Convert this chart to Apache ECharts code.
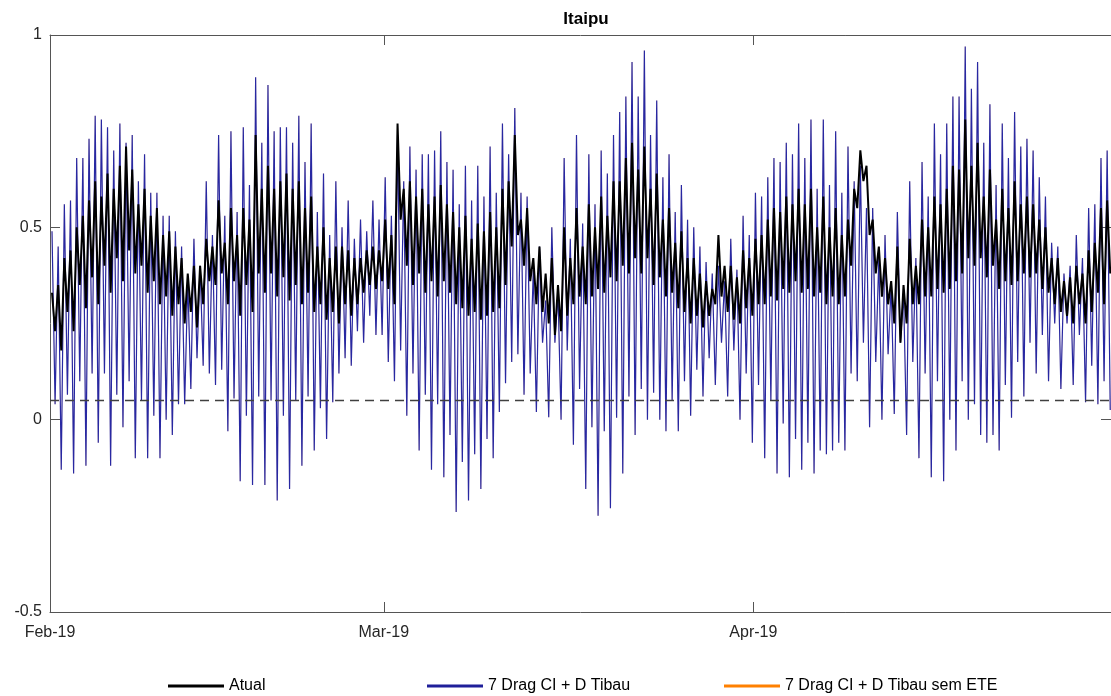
<!DOCTYPE html>
<html>
<head>
    <meta charset="utf-8">
    <style>
        html, body {
            height: 100%;
        }

        * {
            margin: 0;
            padding: 0;
        }

        #container {
            width: 1111px;
            height: 696px;
            background: #fff;
        }
    </style>
</head>
<body>
<div id="container"></div>
<script type="text/javascript" src="https://cdn.jsdelivr.net/npm/echarts@6/dist/echarts.min.js"></script>
<script type="text/javascript">
    // x in days since 1 Feb 2019, one high and one low per tidal cycle (~12.4 h)
    const firstPeakDay = 0.168;
    const cycleDays = 0.5176;

    const monthDays = [0, 28, 59];
    const monthLabels = ['Feb-19', 'Mar-19', 'Apr-19'];
    const limiar = 0.05;

    // 7 Drag CI + D Tibau - highs
    const bluePeaks = [
        0.49, 0.45, 0.56, 0.57, 0.68, 0.68, 0.73, 0.79, 0.78, 0.76,
        0.70, 0.77, 0.72, 0.74, 0.62, 0.69, 0.59, 0.59, 0.53, 0.53,
        0.49, 0.45, 0.36, 0.47, 0.40, 0.62, 0.48, 0.74, 0.53, 0.75,
        0.54, 0.76, 0.61, 0.89, 0.72, 0.87, 0.75, 0.76, 0.76, 0.72,
        0.79, 0.67, 0.77, 0.54, 0.64, 0.48, 0.62, 0.50, 0.57, 0.47,
        0.52, 0.49, 0.57, 0.52, 0.63, 0.53, 0.74, 0.62, 0.71, 0.65,
        0.69, 0.69, 0.70, 0.75, 0.67, 0.65, 0.56, 0.66, 0.57, 0.66,
        0.58, 0.71, 0.59, 0.77, 0.69, 0.81, 0.59, 0.58, 0.39, 0.45,
        0.31, 0.50, 0.33, 0.68, 0.47, 0.74, 0.51, 0.69, 0.56, 0.70,
        0.64, 0.74, 0.80, 0.84, 0.93, 0.84, 0.96, 0.74, 0.83, 0.63,
        0.69, 0.54, 0.61, 0.52, 0.50, 0.45, 0.41, 0.38, 0.40, 0.36,
        0.47, 0.39, 0.53, 0.48, 0.59, 0.58, 0.63, 0.68, 0.67, 0.72,
        0.69, 0.77, 0.68, 0.78, 0.60, 0.78, 0.61, 0.75, 0.59, 0.71,
        0.62, 0.66, 0.55, 0.55, 0.42, 0.48, 0.35, 0.54, 0.33, 0.62,
        0.42, 0.67, 0.58, 0.77, 0.69, 0.77, 0.84, 0.84, 0.97, 0.86,
        0.93, 0.72, 0.82, 0.61, 0.77, 0.68, 0.80, 0.71, 0.73, 0.70,
        0.63, 0.58, 0.46, 0.45, 0.38, 0.40, 0.48, 0.42, 0.55, 0.56,
        0.68, 0.70
    ];
    // 7 Drag CI + D Tibau - lows
    const blueTroughs = [
        0.04, -0.13, 0.065, -0.14, 0.10, -0.12, 0.12, -0.06, 0.12, -0.12,
        0.065, -0.02, 0.10, -0.10, 0.05, -0.10, 0.01, -0.10, 0.0, -0.04,
        0.04, 0.04, 0.08, 0.16, 0.14, 0.12, 0.09, 0.13, -0.03, 0.055,
        -0.16, 0.01, -0.17, 0.06, -0.17, 0.05, -0.21, 0.01, -0.18, 0.05,
        -0.12, 0.06, -0.08, 0.03, -0.05, 0.045, 0.12, 0.16, 0.14, 0.23,
        0.20, 0.27, 0.22, 0.22, 0.15, 0.10, 0.18, 0.01, 0.12, -0.08,
        0.065, -0.13, 0.04, -0.15, -0.04, -0.24, -0.11, -0.21, -0.09, -0.18,
        -0.05, -0.10, 0.02, 0.095, 0.15, 0.17, 0.065, 0.12, 0.02, 0.20,
        0.006, 0.20, 0.0, 0.18, -0.065, 0.08, -0.18, -0.02, -0.25, -0.03,
        -0.23, 0.005, -0.14, 0.06, -0.04, 0.08, 0.0, 0.07, 0.0, -0.03,
        0.05, -0.03, 0.10, 0.01, 0.13, 0.06, 0.16, 0.09, 0.20, 0.06,
        0.18, 0.0, 0.12, -0.06, 0.09, -0.10, 0.05, -0.14, -0.01, -0.15,
        -0.05, -0.13, -0.06, -0.14, -0.08, -0.09, -0.08, -0.06, -0.08, 0.12,
        0.10, 0.20, -0.02, 0.15, 0.0, 0.17, 0.015, 0.20, -0.04, 0.15,
        -0.10, 0.12, -0.15, 0.10, -0.16, 0.0, -0.08, 0.10, 0.0, 0.04,
        -0.04, -0.06, -0.04, -0.08, 0.09, 0.005, 0.15, 0.06, 0.20, 0.12,
        0.22, 0.10, 0.25, 0.08, 0.25, 0.09, 0.22, 0.045, 0.14, 0.04,
        0.10, 0.025
    ];
    // Atual - highs
    const blackPeaks = [
        0.33, 0.35, 0.42, 0.44, 0.50, 0.53, 0.57, 0.62, 0.58, 0.64,
        0.60, 0.66, 0.71, 0.65, 0.56, 0.60, 0.53, 0.55, 0.48, 0.49,
        0.45, 0.42, 0.38, 0.40, 0.40, 0.47, 0.45, 0.57, 0.46, 0.55,
        0.48, 0.55, 0.52, 0.74, 0.60, 0.66, 0.60, 0.62, 0.64, 0.60,
        0.62, 0.55, 0.58, 0.45, 0.50, 0.42, 0.45, 0.45, 0.44, 0.42,
        0.42, 0.44, 0.45, 0.44, 0.52, 0.48, 0.77, 0.60, 0.62, 0.58,
        0.60, 0.56, 0.58, 0.61, 0.56, 0.54, 0.50, 0.53, 0.47, 0.51,
        0.49, 0.54, 0.50, 0.60, 0.62, 0.74, 0.52, 0.55, 0.42, 0.45,
        0.38, 0.42, 0.35, 0.50, 0.42, 0.55, 0.45, 0.56, 0.50, 0.58,
        0.53, 0.62, 0.62, 0.68, 0.72, 0.65, 0.71, 0.60, 0.64, 0.52,
        0.55, 0.46, 0.49, 0.42, 0.42, 0.38, 0.36, 0.34, 0.48, 0.40,
        0.40, 0.37, 0.44, 0.42, 0.47, 0.48, 0.52, 0.55, 0.54, 0.58,
        0.56, 0.60, 0.56, 0.60, 0.50, 0.58, 0.50, 0.55, 0.48, 0.52,
        0.60, 0.70, 0.66, 0.52, 0.45, 0.42, 0.36, 0.45, 0.35, 0.47,
        0.40, 0.52, 0.50, 0.58, 0.56, 0.60, 0.66, 0.65, 0.78, 0.66,
        0.72, 0.58, 0.65, 0.52, 0.60, 0.55, 0.62, 0.56, 0.58, 0.56,
        0.52, 0.50, 0.42, 0.42, 0.36, 0.37, 0.40, 0.38, 0.44, 0.46,
        0.55, 0.57
    ];
    // Atual - lows
    const blackTroughs = [
        0.23, 0.18, 0.28, 0.23, 0.35, 0.29, 0.37, 0.30, 0.40, 0.33,
        0.42, 0.36, 0.44, 0.38, 0.40, 0.33, 0.36, 0.30, 0.32, 0.27,
        0.30, 0.25, 0.28, 0.24, 0.30, 0.36, 0.35, 0.38, 0.30, 0.36,
        0.27, 0.35, 0.28, 0.38, 0.33, 0.38, 0.32, 0.37, 0.31, 0.35,
        0.30, 0.33, 0.28, 0.30, 0.26, 0.28, 0.25, 0.30, 0.27, 0.30,
        0.33, 0.35, 0.34, 0.36, 0.34, 0.30, 0.52, 0.40, 0.35, 0.38,
        0.33, 0.36, 0.32, 0.36, 0.33, 0.30, 0.29, 0.27, 0.28, 0.26,
        0.27, 0.28, 0.29, 0.35, 0.45, 0.48, 0.40, 0.36, 0.30, 0.28,
        0.25, 0.22, 0.23, 0.27, 0.30, 0.32, 0.30, 0.32, 0.34, 0.33,
        0.37, 0.36, 0.40, 0.38, 0.42, 0.38, 0.42, 0.35, 0.37, 0.32,
        0.33, 0.29, 0.28, 0.25, 0.27, 0.24, 0.27, 0.30, 0.32, 0.28,
        0.26, 0.25, 0.29, 0.27, 0.30, 0.30, 0.32, 0.31, 0.34, 0.33,
        0.36, 0.33, 0.34, 0.32, 0.33, 0.30, 0.32, 0.30, 0.32, 0.40,
        0.55, 0.62, 0.48, 0.38, 0.32, 0.30, 0.25, 0.20, 0.25, 0.30,
        0.30, 0.32, 0.32, 0.34, 0.33, 0.34, 0.36, 0.38, 0.42, 0.40,
        0.42, 0.37, 0.40, 0.34, 0.36, 0.35, 0.36, 0.38, 0.37, 0.38,
        0.34, 0.33, 0.30, 0.28, 0.27, 0.25, 0.30, 0.25, 0.28, 0.33,
        0.30, 0.38
    ];

    function zigzag(peaks, troughs) {
        let out = [];
        for (let i = 0; i < peaks.length; i++) {
            let t = firstPeakDay + i * cycleDays;
            out.push([t, peaks[i]]);
            out.push([t + cycleDays / 2, troughs[i]]);
        }
        return out;
    }

    let blueData = zigzag(bluePeaks, blueTroughs);
    let blackData = zigzag(blackPeaks, blackTroughs);

    let dom = document.getElementById("container");
    let myChart = echarts.init(dom, null, {renderer: 'canvas'});
    let axisColor = '#555';
    let font = 'Liberation Sans';

    // MATLAB style box: ticks inside, axes on the frame, not on zero
    function frameX(pos, labels) {
        return {
            type: 'value',
            min: 0,
            max: 89,
            position: pos,
            splitLine: {show: false},
            axisLine: {onZero: false, lineStyle: {color: axisColor}},
            axisTick: {inside: true, length: 10, customValues: monthDays, lineStyle: {color: axisColor}},
            axisLabel: labels ? {
                customValues: monthDays,
                margin: 13,
                fontFamily: font,
                fontSize: 16,
                color: '#262626',
                formatter: function (v) {
                    let k = monthDays.indexOf(Math.round(v));
                    return k >= 0 ? monthLabels[k] : '';
                }
            } : {show: false}
        };
    }

    function frameY(pos, labels) {
        return {
            type: 'value',
            min: -0.5,
            max: 1,
            interval: 0.5,
            position: pos,
            splitLine: {show: false},
            axisLine: {show: true, onZero: false, lineStyle: {color: axisColor}},
            axisTick: {show: true, inside: true, length: 10, lineStyle: {color: axisColor}},
            axisLabel: labels ? {margin: 8, fontFamily: font, fontSize: 16, color: '#262626'} : {show: false}
        };
    }

    let option = {
        animation: false,
        backgroundColor: '#fff',
        title: {
            text: 'Itaipu',
            left: 581,
            top: 6,
            textAlign: 'center',
            textStyle: {fontFamily: font, fontSize: 17, fontWeight: 'bold', color: '#000'}
        },
        legend: [
            {data: ['Atual'], left: 163},
            {data: ['7 Drag CI + D Tibau'], left: 422},
            {data: ['7 Drag CI + D Tibau sem ETE'], left: 719}
        ].map(function (l) {
            return Object.assign(l, {
                top: 673,
                icon: 'rect',
                itemWidth: 56,
                itemHeight: 3,
                textStyle: {fontFamily: font, fontSize: 16, color: '#000'}
            });
        }),
        grid: {left: 50, right: -1, top: 35, bottom: 84},
        xAxis: [frameX('bottom', true), frameX('top', false)],
        yAxis: [frameY('left', true), frameY('right', false)],
        series: [{
            // same values as the blue run, sits underneath it
            name: '7 Drag CI + D Tibau sem ETE',
            type: 'line',
            showSymbol: false,
            color: '#ff8000',
            lineStyle: {width: 0.5, color: '#ff8000', opacity: 0.35},
            data: blueData,
            z: 1
        }, {
            name: '7 Drag CI + D Tibau',
            type: 'line',
            showSymbol: false,
            color: '#1f1f99',
            lineStyle: {width: 1.2, color: '#2828a2'},
            data: blueData,
            z: 2,
            markLine: {
                silent: true,
                symbol: 'none',
                label: {show: false},
                lineStyle: {type: [9, 6], color: '#404040', width: 1.3},
                data: [{yAxis: limiar}]
            }
        }, {
            name: 'Atual',
            type: 'line',
            showSymbol: false,
            color: '#000',
            lineStyle: {width: 2, color: '#000'},
            data: blackData,
            z: 3
        }]
    };
    myChart.setOption(option, true);
</script>
</body>
</html>
